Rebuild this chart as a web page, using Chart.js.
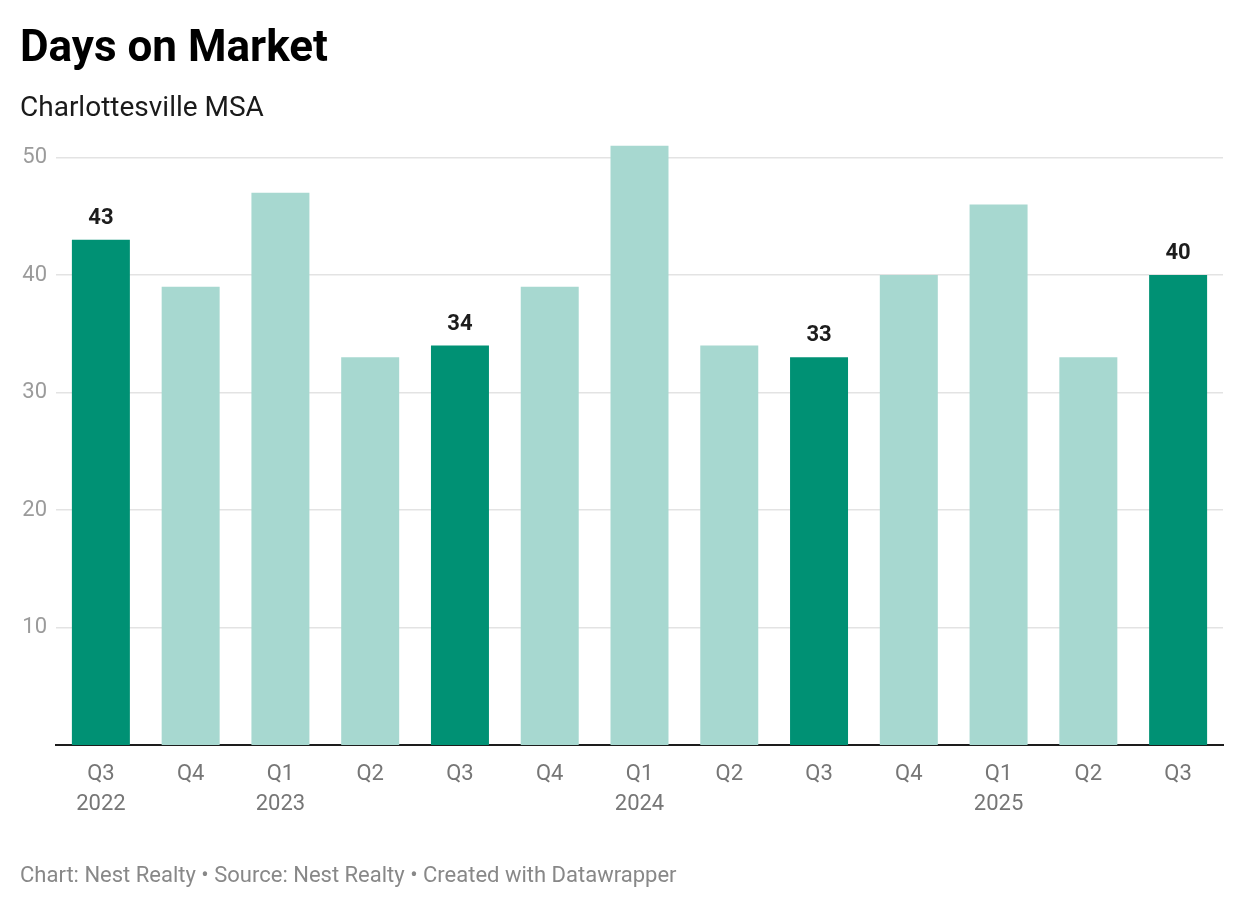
<!DOCTYPE html>
<html>
<head>
<meta charset="utf-8">
<script src="https://cdn.jsdelivr.net/npm/chart.js@4"></script>
<style>
    body { margin: 0; background: #fff; font-family: Roboto, sans-serif; }
    #wrap { position: relative; width: 1240px; height: 910px; overflow: hidden; }
    #plot { position: absolute; left: 0; top: 0; }
    .txt { position: absolute; left: 20px; white-space: nowrap; }
    #title { top: 24px; font-size: 44px; line-height: 44px; font-weight: 700; color: #000; }
    #subtitle { top: 93px; font-size: 28px; line-height: 28px; color: #1a1a1a; }
    #footer { top: 864px; font-size: 22px; line-height: 22px; color: #888; }
</style>
</head>
<body>
<div id="wrap">
    <canvas id="plot" width="1240" height="910"></canvas>
    <div class="txt" id="title">Days on Market</div>
    <div class="txt" id="subtitle">Charlottesville MSA</div>
    <div class="txt" id="footer">Chart: Nest Realty • Source: Nest Realty • Created with Datawrapper</div>
</div>
<script>
// data
const quarters = [
    ['Q3', '2022'], 'Q4', ['Q1', '2023'], 'Q2', 'Q3', 'Q4',
    ['Q1', '2024'], 'Q2', 'Q3', 'Q4', ['Q1', '2025'], 'Q2', 'Q3'
];
const daysOnMarket = [43, 39, 47, 33, 34, 39, 51, 34, 33, 40, 46, 33, 40];
const highlighted = [true, false, false, false, true, false, false, false, true, false, false, false, true];
const yTicks = [10, 20, 30, 40, 50];

const darkGreen = '#009174';
const lightGreen = '#a7d8d0';

// value labels over the highlighted bars
const valueLabels = {
    id: 'valueLabels',
    afterDatasetsDraw(chart) {
        const ctx = chart.ctx;
        const meta = chart.getDatasetMeta(0);
        ctx.save();
        ctx.font = '700 22px Roboto';
        ctx.fillStyle = '#1d1d1d';
        ctx.textAlign = 'center';
        ctx.textBaseline = 'alphabetic';
        meta.data.forEach((bar, i) => {
            if (!highlighted[i]) return;
            ctx.fillText(daysOnMarket[i], bar.x, bar.y - 16);
        });
        ctx.restore();
    }
};

new Chart(document.getElementById('plot'), {
    type: 'bar',
    data: {
        labels: quarters,
        datasets: [{
            data: daysOnMarket,
            backgroundColor: highlighted.map(h => h ? darkGreen : lightGreen),
            borderWidth: 0,
            barPercentage: 0.646,
            categoryPercentage: 1
        }]
    },
    options: {
        responsive: false,
        animation: false,
        layout: { padding: { top: 134, right: 17, left: 0, bottom: 80 } },
        plugins: { legend: { display: false }, tooltip: { enabled: false } },
        scales: {
            x: {
                grid: { display: false, drawTicks: false },
                border: { display: true, color: '#1d1d1d', width: 2 },
                ticks: {
                    color: '#767676',
                    font: { family: 'Roboto', size: 22, lineHeight: 30 / 22 },
                    padding: 14,
                    maxRotation: 0,
                    autoSkip: false
                },
                afterFit(scale) { scale.height = 85; }
            },
            y: {
                min: 0,
                max: 52,
                afterBuildTicks(scale) { scale.ticks = yTicks.map(v => ({ value: v })); },
                grid: { color: '#e3e3e3', lineWidth: 1.5, drawTicks: false },
                border: { display: false },
                ticks: {
                    color: '#9b9b9b',
                    font: { family: 'Roboto', size: 22 },
                    padding: 9
                },
                afterFit(scale) { scale.width = 56; }
            }
        }
    },
    plugins: [valueLabels]
});
</script>
</body>
</html>
